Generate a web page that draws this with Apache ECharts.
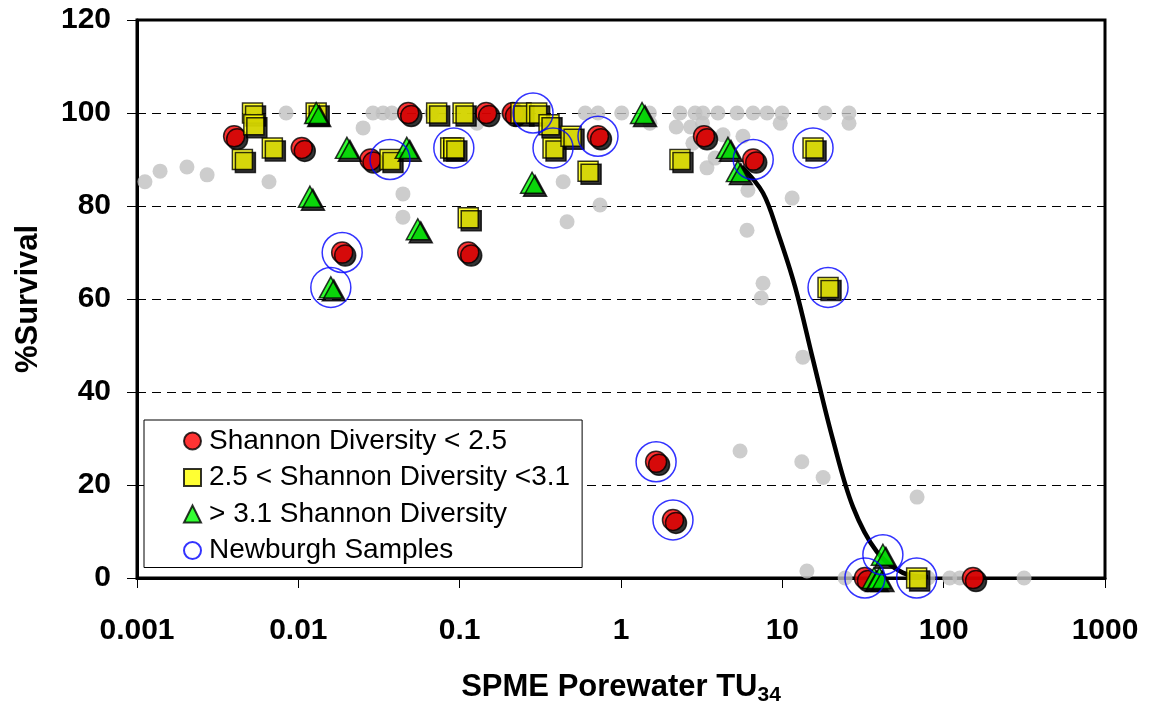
<!DOCTYPE html>
<html>
<head>
<meta charset="utf-8">
<script src="https://cdn.jsdelivr.net/npm/echarts@6/dist/echarts.min.js"></script>
<style>
  html, body { margin: 0; padding: 0; background: #fff; }
  #chart { width: 1154px; height: 706px; }
</style>
</head>
<body>
<div id="chart"></div>
<script>
// Decade tick labels for the log x axis
const xTickLabels = ['0.001', '0.01', '0.1', '1', '10', '100', '1000'];

// [SPME porewater TU34, % survival]
const shannonLow = [
  [0.0040, 95], [0.0105, 92.5], [0.028, 90], [0.048, 100], [0.146, 100],
  [0.113, 70], [0.0187, 70], [0.214, 100], [0.72, 95], [3.27, 95],
  [6.6, 90], [1.65, 25], [2.1, 12.5], [32.5, 0], [152, 0]
];
const shannonMid = [
  [0.0052, 100], [0.0053, 97.5], [0.0045, 90], [0.0069, 92.5], [0.0129, 100],
  [0.037, 90], [0.072, 100], [0.105, 100], [0.088, 92.5], [0.092, 92.5],
  [0.113, 77.5], [0.24, 100], [0.30, 100], [0.358, 97.5], [0.379, 92.5],
  [0.49, 95], [0.625, 87.5], [2.32, 90], [15.5, 92.5], [19.2, 62.5], [68, 0]
];
const shannonHigh = [
  [0.0129, 100], [0.0118, 82], [0.020, 92.5], [0.047, 92.5], [0.055, 75],
  [0.0159, 62.5], [0.281, 85], [1.35, 100], [4.6, 92.5], [5.3, 87.5],
  [42, 5], [37, 0], [40, 0]
];
const newburgh = [
  [0.0187, 70], [0.0159, 62.5], [0.037, 90], [0.092, 92.5], [0.285, 100],
  [0.379, 92.5], [0.72, 95], [1.65, 25], [2.1, 12.5], [6.6, 90],
  [15.5, 92.5], [19.2, 62.5], [32.5, 0], [42, 5], [68, 0]
];
// Samples without a diversity index
const otherSamples = [
  [0.00112, 85.2], [0.00139, 87.5], [0.00204, 88.4], [0.00272, 86.7], [0.00658, 85.2],
  [0.0084, 100], [0.0252, 96.8], [0.029, 100], [0.0335, 100], [0.038, 100],
  [0.0445, 82.6], [0.0445, 77.6], [0.0674, 100], [0.128, 97.8], [0.2, 100],
  [0.438, 85.2], [0.463, 76.6], [0.741, 80.2], [0.6, 100], [0.72, 100],
  [1.01, 100], [1.5, 100], [1.51, 97.8], [2.32, 100], [2.88, 100],
  [3.22, 100], [3.99, 100], [5.24, 100], [6.58, 100], [8.04, 100],
  [9.96, 100], [18.4, 100], [25.9, 100], [25.9, 97.8], [2.2, 97],
  [2.7, 97], [3.2, 97.8], [4.29, 95.3], [5.7, 95], [9.7, 97.8],
  [2.79, 93.5], [3.41, 88.2], [3.83, 90.3], [6.12, 83.4], [11.5, 81.7],
  [6.04, 74.8], [7.59, 63.4], [7.4, 60.2], [13.4, 47.5], [5.47, 27.3],
  [13.2, 25], [17.9, 21.6], [68.4, 17.4], [14.2, 1.5], [24.5, 0],
  [80, 0], [109, 0], [126, 0], [315, 0]
];
// Fitted dose-response curve
const fitCurve = [
  [5.6, 88.5], [7.59, 82.8], [9.4, 74.2], [12.0, 62.6], [15.5, 46.9],
  [20.6, 29.7], [27.4, 15.3], [38.6, 5.6], [56, 1.1], [80, 0.2]
];

const FONT = "'Liberation Sans', Arial, sans-serif";
const dropShadow = {
  borderColor: '#000', borderWidth: 1.5,
  shadowColor: '#000', shadowBlur: 0, shadowOffsetX: 3, shadowOffsetY: 3
};

const chart = echarts.init(document.getElementById('chart'), null, { renderer: 'canvas' });
chart.setOption({
  animation: false,
  backgroundColor: '#fff',
  grid: {
    left: 137, right: 49, top: 20, bottom: 128,
    containLabel: false, outerBoundsMode: 'none',
    show: true, borderColor: '#000', borderWidth: 3, backgroundColor: 'transparent'
  },
  legend: {
    orient: 'vertical',
    left: 144, top: 420,
    padding: [7, 12, 3, 39],
    itemGap: 8.5,
    itemWidth: 17, itemHeight: 17,
    borderColor: '#000', borderWidth: 1,
    backgroundColor: '#fff',
    textStyle: { fontFamily: FONT, fontSize: 28, color: '#000', padding: [0, 0, 0, 3] },
    itemStyle: { shadowBlur: 0, shadowOffsetX: 0, shadowOffsetY: 0, shadowColor: 'rgba(0,0,0,0)' },
    data: ['Shannon Diversity < 2.5', '2.5 < Shannon Diversity <3.1', '> 3.1 Shannon Diversity', 'Newburgh Samples']
  },
  xAxis: {
    type: 'log', logBase: 10, min: 0.001, max: 1000,
    name: '{a|SPME Porewater TU}{b|34}',
    nameLocation: 'middle', nameGap: 91,
    nameTextStyle: {
      rich: {
        a: { fontFamily: FONT, fontWeight: 'bold', fontSize: 31, color: '#000' },
        b: { fontFamily: FONT, fontWeight: 'bold', fontSize: 21, color: '#000', padding: [16, 0, 0, 0] }
      }
    },
    axisLine: { show: true, lineStyle: { color: '#000', width: 3 } },
    axisTick: { show: true, inside: false, length: 10, lineStyle: { color: '#000', width: 1 } },
    minorTick: { show: false },
    splitLine: { show: false },
    axisLabel: {
      margin: 38, color: '#000', fontFamily: FONT, fontWeight: 'bold', fontSize: 30,
      formatter: (v, i) => xTickLabels[i]
    }
  },
  yAxis: {
    type: 'value', min: 0, max: 120, interval: 20,
    name: '%Survival', nameLocation: 'middle', nameGap: 93,
    nameTextStyle: { fontFamily: FONT, fontWeight: 'bold', fontSize: 31, color: '#000' },
    axisLine: { show: true, lineStyle: { color: '#000', width: 3 } },
    axisTick: { show: true, inside: false, length: 10, lineStyle: { color: '#000', width: 1 } },
    splitLine: { show: true, lineStyle: { color: '#000', width: 1, type: [9, 6] } },
    axisLabel: { margin: 26, color: '#000', fontFamily: FONT, fontWeight: 'bold', fontSize: 30 }
  },
  series: [
    {
      name: 'Other samples', type: 'scatter', data: otherSamples,
      symbol: 'circle', symbolSize: 15, z: 1,
      itemStyle: { color: '#c0c0c0' }
    },
    {
      name: 'Fit', type: 'line', data: fitCurve, smooth: 0.35,
      symbol: 'none', z: 2,
      lineStyle: { color: '#000', width: 4.5 }
    },
    {
      name: 'Shannon Diversity < 2.5', type: 'scatter', data: shannonLow,
      symbol: 'circle', symbolSize: 21, z: 3,
      itemStyle: Object.assign({ color: '#ff0000' }, dropShadow)
    },
    {
      name: '2.5 < Shannon Diversity <3.1', type: 'scatter', data: shannonMid,
      symbol: 'rect', symbolSize: 20, z: 4,
      itemStyle: Object.assign({ color: '#ffff00' }, dropShadow)
    },
    {
      name: '> 3.1 Shannon Diversity', type: 'scatter', data: shannonHigh,
      symbol: 'triangle', symbolSize: [23, 21], z: 5,
      itemStyle: Object.assign({ color: '#00ff00' }, dropShadow)
    },
    {
      name: 'Newburgh Samples', type: 'scatter', data: newburgh,
      symbol: 'circle', symbolSize: 40, z: 6,
      itemStyle: { color: 'rgba(0,0,0,0)', borderColor: '#0000ff', borderWidth: 1.5 }
    }
  ]
});
</script>
</body>
</html>
